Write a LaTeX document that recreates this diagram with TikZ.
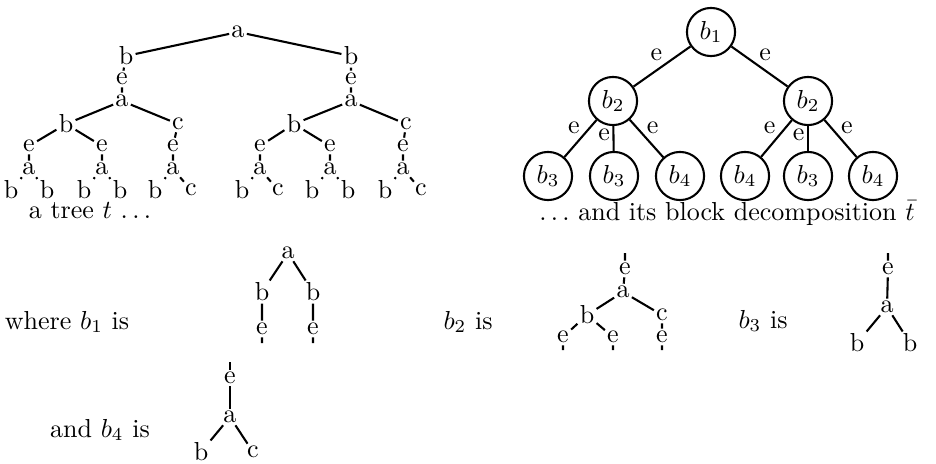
\documentclass[tikz,border=0pt]{standalone}
\usepackage{amsmath}
\usepackage{amssymb}

\tikzset{
  lbl/.style={inner sep=0.5pt},
  blk/.style={circle,draw,minimum size=0.65cm,inner sep=0pt},
}

\begin{document}
\begin{tikzpicture}[x=0.0135cm,y=-0.0135cm,thick]
  \useasboundingbox (0,0) rectangle (936,463);

  % the tree t
  \node[lbl] (ta) at (238,32) {a};
  \node[lbl] (tbl) at (126,56) {b};
  \node[lbl] (tbr) at (351,56) {b};
  \node[lbl] (tel) at (122,79) {e};
  \node[lbl] (ter) at (351,79) {e};
  \node[lbl] (tal) at (122,101) {a};
  \node[lbl] (tar) at (351,101) {a};
  \node[lbl] (tbll) at (66,124) {b};
  \node[lbl] (tcl) at (178,124) {c};
  \node[lbl] (tblr) at (294,124) {b};
  \node[lbl] (tcr) at (406,124) {c};
  \draw (ta) -- (tbl) (ta) -- (tbr);
  \draw (tbl) -- (tel) -- (tal) (tbr) -- (ter) -- (tar);
  \draw (tal) -- (tbll) (tal) -- (tcl) (tar) -- (tblr) (tar) -- (tcr);
  \foreach \i/\x/\r in {1/29/b,2/102/b,3/173/c,4/260/c,5/330/b,6/403/c} {
    \node[lbl] (te\i) at (\x,146) {e};
    \node[lbl] (tx\i) at (\x,169) {a};
    \node[lbl] (tl\i) at (\x-18,190) {b};
    \node[lbl] (tr\i) at (\x+18,190) {\r};
    \draw (te\i) -- (tx\i) (tx\i) -- (tl\i) (tx\i) -- (tr\i);
  }
  \draw (tbll) -- (te1) (tbll) -- (te2) (tcl) -- (te3);
  \draw (tblr) -- (te4) (tblr) -- (te5) (tcr) -- (te6);
  \node[anchor=base] (tcap) at (90,218) {a tree $t$ $\ldots$};

  % its block decomposition
  \node[blk] (d1) at (711,32) {$b_1$};
  \node[blk] (d2l) at (613,101) {$b_2$};
  \node[blk] (d2r) at (808,101) {$b_2$};
  \node[blk] (d3a) at (548,176) {$b_3$};
  \node[blk] (d3b) at (614,176) {$b_3$};
  \node[blk] (d4a) at (680,176) {$b_4$};
  \node[blk] (d4b) at (745,176) {$b_4$};
  \node[blk] (d3c) at (808,176) {$b_3$};
  \node[blk] (d4c) at (873,176) {$b_4$};
  \draw (d1) -- node[pos=0.6,above] {e} (d2l);
  \draw (d1) -- node[pos=0.6,above] {e} (d2r);
  \draw (d2l) -- node[pos=0.22,left] {e} (d3a);
  \draw (d2l) -- node[pos=0.35,left,inner sep=1pt] {e} (d3b);
  \draw (d2l) -- node[pos=0.22,right] {e} (d4a);
  \draw (d2r) -- node[pos=0.22,left] {e} (d4b);
  \draw (d2r) -- node[pos=0.35,left,inner sep=1pt] {e} (d3c);
  \draw (d2r) -- node[pos=0.22,right] {e} (d4c);
  \node[anchor=base] (dcap) at (727,220) {$\ldots$ and its block decomposition $\bar t$};

  % the blocks
  \node[anchor=base] (w1) at (67,329) {where $b_1$ is};
  \node[lbl] (pa) at (288,253) {a};
  \node[lbl] (pbl) at (262,292) {b};
  \node[lbl] (pbr) at (313,292) {b};
  \node[lbl] (pel) at (262,329) {e};
  \node[lbl] (per) at (313,329) {e};
  \coordinate (pl) at (262,343);
  \coordinate (pr) at (313,343);
  \draw (pa) -- (pbl) -- (pel) -- (pl);
  \draw (pa) -- (pbr) -- (per) -- (pr);

  \node[anchor=base] (w2) at (468,329) {$b_2$ is};
  \coordinate (qt) at (625,253);
  \node[lbl] (qe) at (625,269) {e};
  \node[lbl] (qa) at (623,292) {a};
  \node[lbl] (qb) at (587,315) {b};
  \node[lbl] (qc) at (662,315) {c};
  \node[lbl] (qe1) at (563,337) {e};
  \node[lbl] (qe2) at (613,337) {e};
  \node[lbl] (qe3) at (662,337) {e};
  \coordinate (q1) at (563,350);
  \coordinate (q2) at (613,350);
  \coordinate (q3) at (662,350);
  \draw (qt) -- (qe) -- (qa);
  \draw (qa) -- (qb) (qa) -- (qc);
  \draw (qb) -- (qe1) -- (q1) (qb) -- (qe2) -- (q2) (qc) -- (qe3) -- (q3);

  \node[anchor=base] (w3) at (763,328) {$b_3$ is};
  \coordinate (st) at (888,253);
  \node[lbl] (se) at (888,269) {e};
  \node[lbl] (sa) at (887,307) {a};
  \node[lbl] (sl) at (857,343) {b};
  \node[lbl] (sr) at (910,343) {b};
  \draw (st) -- (se) -- (sa);
  \draw (sa) -- (sl) (sa) -- (sr);

  \node[anchor=base] (w4) at (100,437) {and $b_4$ is};
  \coordinate (ut) at (230,362);
  \node[lbl] (ue) at (230,378) {e};
  \node[lbl] (ua) at (230,417) {a};
  \node[lbl] (ul) at (201,452) {b};
  \node[lbl] (ur) at (253,452) {c};
  \draw (ut) -- (ue) -- (ua);
  \draw (ua) -- (ul) (ua) -- (ur);
\end{tikzpicture}
\end{document}
